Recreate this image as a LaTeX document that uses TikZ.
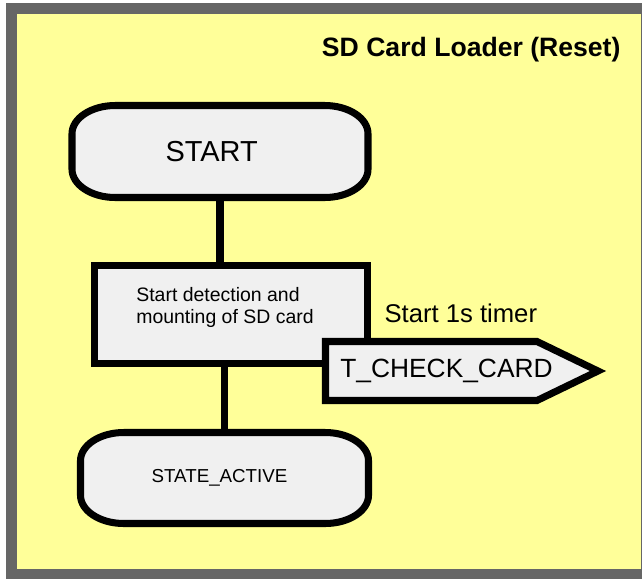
\documentclass[tikz,border=0pt]{standalone}
\usepackage{fontspec}
\setmainfont{Liberation Sans}
\usetikzlibrary{calc}
\definecolor{hoja}{HTML}{ffff99}
\definecolor{marco}{HTML}{666666}
\definecolor{caja}{HTML}{f0f0f0}

\tikzset{
  terminal/.style={inner sep=0pt,outer sep=0pt},
  proceso/.style={draw,fill=caja,inner sep=0pt},
  linea/.style={line width=6.6pt},
}

% oval-ended outline: centre, half width, half height (cm)
\newcommand\terminalborde[3]{%
  \draw[fill=caja] ([shift={({(-#2+1.3)*1cm},{#3*1cm})}]#1) -- ([shift={({(#2-1.3)*1cm},{#3*1cm})}]#1)
    arc[start angle=90,end angle=0,x radius=1.3cm,y radius=0.85cm]
    -- ([shift={({#2*1cm},{(-#3+0.85)*1cm})}]#1)
    arc[start angle=0,end angle=-90,x radius=1.3cm,y radius=0.85cm]
    -- ([shift={({(-#2+1.3)*1cm},{-#3*1cm})}]#1)
    arc[start angle=270,end angle=180,x radius=1.3cm,y radius=0.85cm]
    -- ([shift={({-#2*1cm},{(#3-0.85)*1cm})}]#1)
    arc[start angle=180,end angle=90,x radius=1.3cm,y radius=0.85cm] -- cycle;}

\begin{document}
\begin{tikzpicture}[x=0.03cm,y=-0.03cm,line width=6pt,line join=miter]

  \useasboundingbox (0,0) rectangle (642,579);
  \fill[marco] (6,3) rectangle (642,579);
  \fill[hoja] (16.5,14) rectangle (640.5,569);

  \node[anchor=east,inner sep=0pt,font=\fontsize{22.7}{26}\selectfont\bfseries] (titulo) at (624,50) {SD Card Loader (Reset)};

  \coordinate (cstart) at (220,151.5);
  \coordinate (cactive) at (224.5,478);
  \terminalborde{cstart}{4.44}{1.38}
  \terminalborde{cactive}{4.32}{1.365}

  \node[terminal,minimum width=8.88cm,minimum height=2.76cm,font=\fontsize{24.7}{29}\selectfont] (start) at (cstart) {START\kern0.5cm};
  \node[proceso,minimum width=8.19cm,minimum height=2.94cm] (detect) at (231,314.5) {};
  \node[align=left,inner sep=0pt,font=\fontsize{16.6}{18.5}\selectfont] (detecttxt) at (225,307.5) {Start detection and\\mounting of SD card};
  \node[terminal,minimum width=8.64cm,minimum height=2.73cm,font=\fontsize{16}{19}\selectfont] (active) at (cactive) {STATE\_ACTIVE\kern0.3cm};

  \draw[linea] (start.south) -- (start.south |- detect.north);
  \draw[linea] (detect.south -| active.north) -- (active.north);

  % timer
  \draw[fill=caja] (325.5,341.5) coordinate (tnw) -- (537,341.5) -- (598,371) coordinate (tpunta) -- (537,400.5) -- (325.5,400.5) coordinate (tsw) -- cycle;
  \node[inner sep=0pt,font=\fontsize{22.5}{27}\selectfont] (timer) at (446.5,371) {T\_CHECK\_CARD};
  \node[anchor=west,inner sep=0pt,font=\fontsize{21.9}{26}\selectfont] (timertxt) at (381,313) {Start 1s timer};

\end{tikzpicture}
\end{document}
